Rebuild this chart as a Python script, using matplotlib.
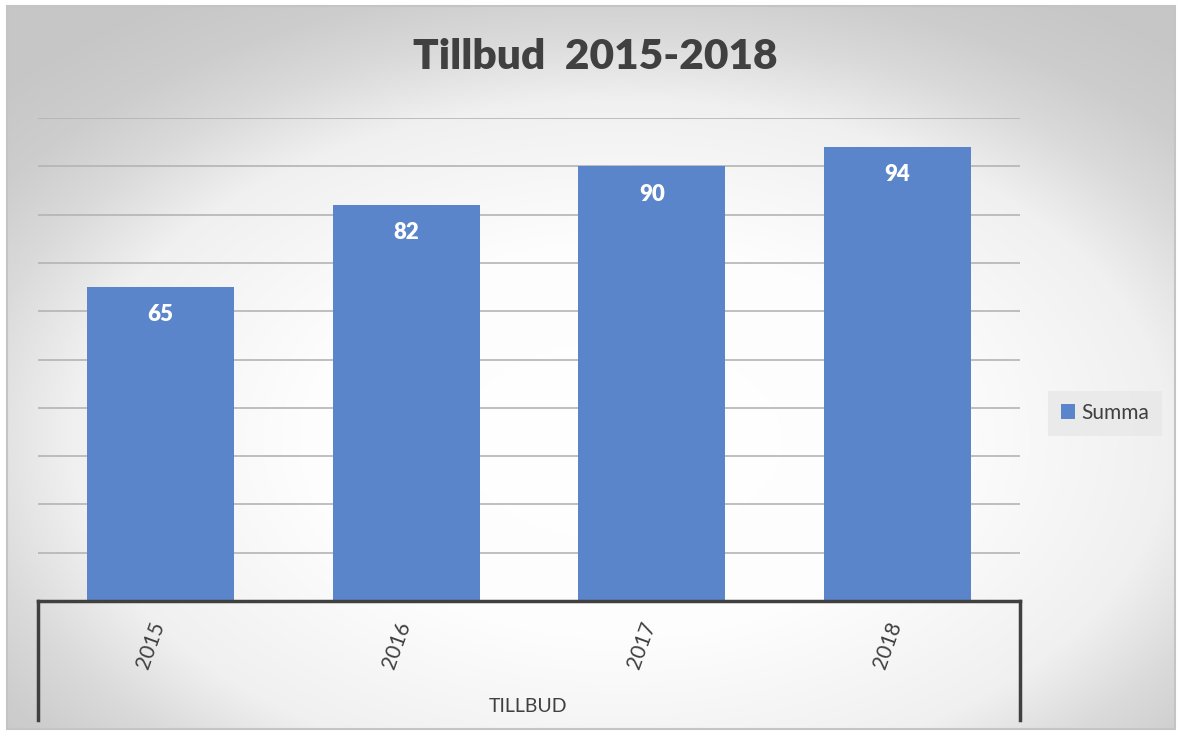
import numpy as np
import matplotlib.pyplot as plt
from matplotlib.lines import Line2D
from matplotlib.patches import Rectangle

years = ["2015", "2016", "2017", "2018"]
summa = [65, 82, 90, 94]
title = "Tillbud  2015-2018"
group_label = "TILLBUD"

plt.rcParams["font.family"] = ["Lato", "DejaVu Sans"]

W, H = 1177, 731
fig = plt.figure(figsize=(W / 100, H / 100), dpi=100)
fig.patch.set_facecolor("white")


def fx(px):
    return px / W


def fy(py):
    return 1 - py / H


# radial gradient background of the chart area
bg = fig.add_axes([fx(7), fy(729), fx(1175) - fx(7), fy(6) - fy(729)])
xx, yy = np.meshgrid(np.arange(7, 1175), np.arange(6, 729))
r = np.hypot((xx - 620) / 585, (yy - 440) / 362)
g = np.interp(r, [0, 0.55, 0.94, 1.12, 1.27, 1.45], [255, 253, 240, 218, 205, 198])
bg.imshow(np.dstack([g, g, g]).astype(np.uint8), aspect="auto", interpolation="bilinear")
bg.set_axis_off()
fig.add_artist(Rectangle((fx(7), fy(729)), fx(1175) - fx(7), fy(6) - fy(729),
                         transform=fig.transFigure, fill=False, ec="#c4c4c4", lw=1.5))

left, right, top, bottom = 38, 1020, 118, 601
ax = fig.add_axes([fx(left), fy(bottom), fx(right) - fx(left), fy(top) - fy(bottom)])
ax.patch.set_alpha(0)

x = np.arange(len(years))
bars = ax.bar(x, summa, width=0.6, color="#5B85CB", zorder=3, label="Summa")
ax.set_xlim(-0.5, len(years) - 0.5)
ax.set_ylim(0, 100)
ax.set_yticks(np.arange(10, 101, 10))
ax.yaxis.grid(True, color="#b4b4b4", lw=1.2, zorder=0)
ax.tick_params(left=False, labelleft=False, bottom=False, labelbottom=False)
for s in ["top", "left", "right"]:
    ax.spines[s].set_visible(False)
ax.spines["bottom"].set_color("#404040")
ax.spines["bottom"].set_linewidth(2.5)
ax.spines["bottom"].set_zorder(4)

for xi, v in zip(x, summa):
    ax.annotate(str(v), (xi, v), xytext=(0, -20), textcoords="offset points",
                ha="center", va="center", color="white", fontsize=16, fontweight="heavy")

for xi, yr in zip(x, years):
    ax.annotate(yr, (xi, 0), xycoords=("data", "axes fraction"), xytext=(-7, -32),
                textcoords="offset points", rotation=70, ha="center", va="center",
                color="#404040", fontsize=15)

# multi-level category axis frame
for px in (left, right):
    fig.add_artist(Line2D([fx(px), fx(px)], [fy(bottom), fy(720)], transform=fig.transFigure,
                          color="#404040", lw=2.5))
fig.text(fx(528), fy(706), group_label, ha="center", va="center", fontsize=14, color="#404040")

fig.text(fx(595), fy(57), title, ha="center", va="center", fontsize=30.5,
         fontweight="heavy", color="#404040")

leg = fig.legend(handles=[bars], loc="center", bbox_to_anchor=(fx(1105), fy(413)),
                 fontsize=15, frameon=True, fancybox=False, handlelength=0.7,
                 handleheight=0.7, handletextpad=0.3, borderpad=0.6)
leg.get_frame().set_facecolor("#e8e8e8")
leg.get_frame().set_edgecolor("none")
for t in leg.get_texts():
    t.set_color("#404040")

fig.savefig("out.png", dpi=100)
